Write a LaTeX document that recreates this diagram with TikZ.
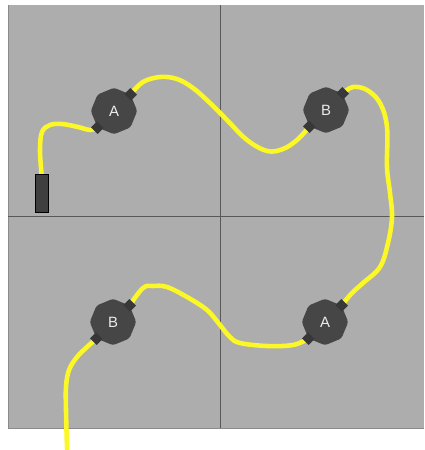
\documentclass[tikz,border=0pt]{standalone}
\usepackage{fontspec}
\setsansfont{Liberation Sans}
\usetikzlibrary{shapes.geometric}
\definecolor{panel}{RGB}{173,173,173}
\definecolor{hubgray}{RGB}{70,70,70}
\definecolor{gridgray}{RGB}{88,88,88}
\definecolor{wireyellow}{RGB}{252,248,40}
\pgfdeclarelayer{bg}\pgfdeclarelayer{wires}\pgfsetlayers{bg,wires,main}
\begin{document}
\begin{tikzpicture}[x=0.02cm,y=-0.02cm,font=\sffamily,hub/.style={regular polygon, regular polygon sides=8, shape border rotate=22.5, fill=hubgray, minimum size=0.93cm, inner sep=0pt, rounded corners=1.5pt, text=white!92!black, font=\sffamily\fontsize{8.5}{10}\selectfont},tab/.style={rectangle, fill=hubgray!80!black, minimum width=0.17cm, minimum height=0.19cm, inner sep=0pt, rotate=45},wire/.style={wireyellow, line width=2.6pt, line cap=round, line join=round}]
\useasboundingbox (0,0) rectangle (424,450);
\begin{pgfonlayer}{bg}
\fill[panel] (8,5) rectangle (424,428);\draw[gridgray!70, thin] (8,5) -- (8,428) -- (424,428);
\draw[gridgray, thin] (220,5) -- (220,428);\draw[gridgray, thin] (8,216) -- (424,216);
\end{pgfonlayer}
\node[hub] (a1) at (114,111) {A};\node[hub] (b1) at (326,110) {B};
\node[hub] (b2) at (113,322) {B};\node[hub] (a2) at (325,322) {A};
\foreach \h in {a1,b1,b2,a2}{\node[tab] (\h ne) at (\h.45) {};\node[tab] (\h sw) at (\h.225) {};}
\node[draw=black, fill=hubgray!90!black, minimum width=0.26cm, minimum height=0.76cm, inner sep=0pt] (batt) at (41.5,193) {};
\coordinate (lead) at (67,449);
\begin{pgfonlayer}{wires}
\draw[wire] plot[smooth, tension=0.6] coordinates {(batt.north) (40,150) (42,132) (50,125) (62,124) (78,127) (90,130) (a1sw)};
\draw[wire] plot[smooth, tension=0.6] coordinates {(a1ne) (143,82) (160,77) (177,79) (193,88) (210,103) (227,120) (247,140) (267,151) (283,149) (297,140) (b1sw)};
\draw[wire] plot[smooth, tension=0.6] coordinates {(b1ne) (353,87) (367,90) (380,103) (387,127) (387,167) (390,193) (392,217) (388,243) (380,267) (363,283) (352,293) (a2ne)};
\draw[wire] plot[smooth, tension=0.6] coordinates {(a2sw) (293,345) (267,346) (240,343) (230,337) (220,325) (207,310) (187,297) (167,287) (153,286) (143,288) (b2ne)};
\draw[wire] plot[smooth, tension=0.6] coordinates {(b2sw) (87,347) (77,357) (69,370) (66,387) (66,410) (lead)};
\end{pgfonlayer}
\end{tikzpicture}
\end{document}
